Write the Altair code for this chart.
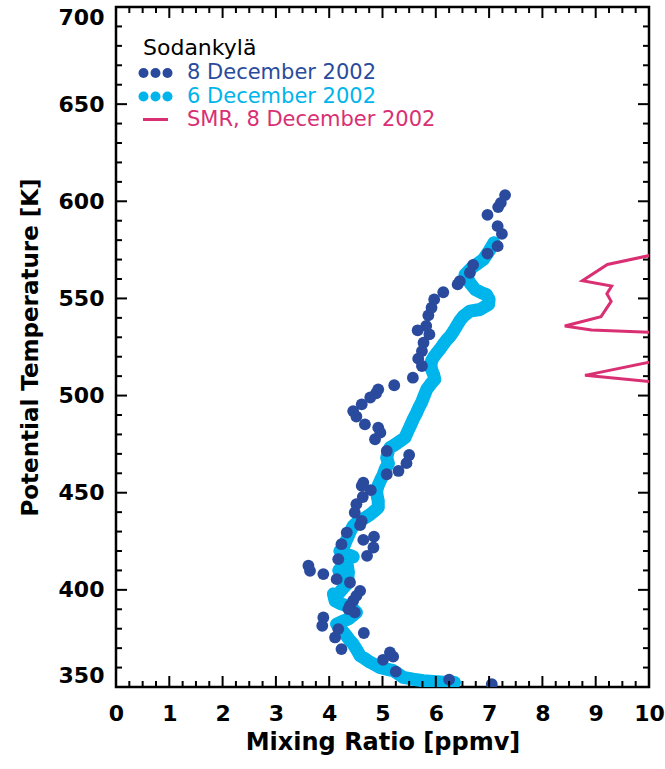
import altair as alt
import pandas as pd

# ---- data -------------------------------------------------------------
# Sodankylä sonde, 8 December 2002: (mixing ratio [ppmv], potential temperature [K])
dec8_x = [7.30, 7.22, 7.17, 6.97, 7.16, 7.24, 7.16, 6.97, 6.70, 6.64, 6.45, 6.41,
          6.14, 5.97, 5.92, 5.86, 5.82, 5.66, 5.88, 5.77, 5.74, 5.67, 5.74, 5.57,
          5.22, 4.92, 4.88, 4.77, 4.61, 4.45, 4.51, 4.67, 4.92, 4.96, 4.86, 5.08,
          5.50, 5.45, 5.30, 5.08, 4.64, 4.61, 4.78, 4.63, 4.51, 4.48, 4.61, 4.58,
          4.33, 4.84, 4.64, 4.23, 4.83, 4.71, 4.17, 3.61, 3.64, 3.89, 4.14, 4.39,
          4.58, 4.51, 4.45, 4.39, 4.36, 4.48, 3.89, 3.87, 4.17, 4.65, 4.11, 4.23,
          5.14, 5.20, 5.01, 5.25, 6.25, 7.05]
dec8_theta = [603.2, 599.2, 597.0, 593.0, 587.2, 583.2, 576.9, 573.1, 567.3, 563.2, 558.9, 557.2,
              553.2, 549.5, 545.2, 541.3, 535.8, 533.6, 531.5, 527.2, 522.9, 519.0, 515.2, 509.2,
              505.3, 503.2, 501.2, 499.0, 495.5, 492.0, 489.2, 485.2, 483.5, 480.9, 477.5, 471.5,
              469.4, 465.2, 461.2, 459.5, 455.2, 453.5, 451.3, 447.8, 444.1, 439.8, 435.5, 433.3,
              429.5, 427.4, 425.7, 423.5, 421.8, 417.5, 415.8, 412.4, 409.8, 408.1, 405.5, 403.8,
              399.5, 396.9, 394.4, 391.8, 390.1, 388.4, 385.8, 381.5, 379.8, 377.8, 375.5, 369.5,
              367.8, 365.6, 364.0, 357.9, 353.8, 351.5]

# Sodankylä sonde, 6 December 2002 (dense profile, top to bottom)
dec6_x = [7.09, 7.00, 6.89, 6.78, 6.67, 6.55, 6.60, 6.64, 6.74, 6.85, 6.95, 7.00,
          6.99, 6.83, 6.64, 6.52, 6.45, 6.39, 6.33, 6.27, 6.20, 6.14, 6.08, 6.02,
          5.96, 5.92, 5.91, 5.92, 5.96, 5.98, 5.90, 5.83, 5.78, 5.73, 5.68, 5.64,
          5.58, 5.52, 5.47, 5.42, 5.33, 5.22, 5.14, 5.10, 5.08, 5.11, 5.05, 5.01,
          4.97, 4.92, 4.89, 4.90, 4.92, 4.92, 4.85, 4.77, 4.68, 4.58, 4.50, 4.45,
          4.40, 4.36, 4.31, 4.27, 4.20, 4.30, 4.45, 4.33, 4.18, 4.34, 4.36, 4.35,
          4.36, 4.25, 4.14, 4.08, 4.11, 4.20, 4.33, 4.45, 4.51, 4.43, 4.36, 4.24,
          4.14, 4.22, 4.30, 4.37, 4.45, 4.52, 4.58, 4.68, 4.77, 4.86, 4.95, 5.08,
          5.20, 5.30, 5.39, 5.57, 5.76, 5.95, 6.15, 6.35]
dec6_theta = [578.6, 574.5, 570.0, 567.8, 565.7, 562.3, 560.0, 558.0, 554.6, 553.0, 552.0, 549.5,
              546.9, 544.3, 543.5, 540.9, 538.5, 535.8, 533.0, 530.6, 528.5, 526.3, 524.0, 522.0,
              519.8, 517.8, 515.5, 513.5, 510.8, 508.4, 505.8, 503.2, 499.8, 496.3, 493.7, 491.2,
              488.0, 484.3, 481.3, 478.3, 476.6, 474.5, 473.2, 470.5, 468.0, 465.0, 462.1, 459.0,
              456.9, 453.8, 450.9, 448.3, 445.8, 442.4, 440.6, 438.9, 437.2, 435.5, 434.2, 432.9,
              430.3, 427.8, 424.8, 421.8, 420.0, 418.8, 417.0, 415.8, 410.0, 412.5, 408.9, 406.5,
              403.8, 400.5, 396.9, 397.9, 394.4, 393.0, 391.8, 390.0, 388.4, 386.6, 385.0, 383.7,
              382.4, 379.8, 377.2, 374.6, 372.1, 369.0, 366.1, 364.4, 362.7, 361.4, 360.1, 359.2,
              358.4, 356.6, 354.9, 354.0, 353.2, 352.8, 352.5, 352.3]

# SMR, 8 December 2002 (partly beyond the 10 ppmv edge)
smr_x = [10.6, 9.22, 8.75, 9.30, 9.21, 9.29, 9.10, 8.42, 8.92, 10.6, 11.0, 10.5, 8.80, 10.5]
smr_theta = [575.5, 567.5, 559.1, 556.4, 552.4, 548.5, 540.6, 535.8, 533.7, 532.0, 525.0, 520.0, 510.4, 506.0]

# axis ticks
x_major = list(range(0, 11))
x_minor = [i * 0.25 for i in range(41) if i % 4 != 0]
y_major = list(range(350, 701, 50))
y_minor = [v for v in range(350, 701, 10) if v % 50 != 0]

# ---- styling ----------------------------------------------------------
DARK = "#2a4b9d"
LIGHT = "#00b4ec"
PINK = "#d92f73"
FONT = "DejaVu Sans"
W, H = 533, 680
MAJOR, MINOR = 11, 6

x_scale = alt.Scale(domain=[0, 10], nice=False, zero=False)
y_scale = alt.Scale(domain=[350, 700], nice=False, zero=False)

x_axis = alt.Axis(values=x_major, format="d", ticks=False, domain=False, grid=False,
                  labelFont=FONT, labelFontSize=22, labelFontWeight="bold", labelColor="black",
                  labelPadding=16, labelFlush=False, labelOverlap=False,
                  title="Mixing Ratio [ppmv]", titleFont=FONT, titleFontSize=24,
                  titleFontWeight="bold", titleColor="black", titlePadding=6)
y_axis = alt.Axis(values=y_major, format="d", ticks=False, domain=False, grid=False,
                  labelFont=FONT, labelFontSize=22, labelFontWeight="bold", labelColor="black",
                  labelPadding=12, labelFlush=True, labelOverlap=False,
                  title="Potential Temperature [K]", titleFont=FONT, titleFontSize=23,
                  titleFontWeight="bold", titleColor="black", titlePadding=16)


def xe(field):
    return alt.X(field, type="quantitative", scale=x_scale, axis=x_axis)


def ye(field):
    return alt.Y(field, type="quantitative", scale=y_scale, axis=y_axis)


dec8 = pd.DataFrame({"x": dec8_x, "theta": dec8_theta})
dec6 = pd.DataFrame({"x": dec6_x, "theta": dec6_theta, "i": range(len(dec6_x))})
smr = pd.DataFrame({"x": smr_x, "theta": smr_theta, "i": range(len(smr_x))})

smr_line = alt.Chart(smr).mark_line(color=PINK, strokeWidth=3, clip=True).encode(
    x=xe("x"), y=ye("theta"), order="i:Q")

dec6_band = alt.Chart(dec6).mark_line(color=LIGHT, strokeWidth=13, strokeCap="round",
                                      strokeJoin="round", clip=True).encode(
    x=xe("x"), y=ye("theta"), order="i:Q")
dec6_pts = alt.Chart(dec6).mark_circle(color=LIGHT, size=145, opacity=1, clip=True).encode(
    x=xe("x"), y=ye("theta"))

dec8_pts = alt.Chart(dec8).mark_circle(color=DARK, size=140, opacity=1, clip=True).encode(
    x=xe("x"), y=ye("theta"))

# inward ticks on all four sides
def vticks(vals, length):
    d = pd.DataFrame({"v": vals})
    bottom = alt.Chart(d).mark_rule(color="black", strokeWidth=2).encode(
        x=xe("v"), y=alt.value(H), y2=alt.value(H - length))
    top = alt.Chart(d).mark_rule(color="black", strokeWidth=2).encode(
        x=xe("v"), y=alt.value(0), y2=alt.value(length))
    return [bottom, top]


def hticks(vals, length):
    d = pd.DataFrame({"v": vals})
    left = alt.Chart(d).mark_rule(color="black", strokeWidth=2).encode(
        y=ye("v"), x=alt.value(0), x2=alt.value(length))
    right = alt.Chart(d).mark_rule(color="black", strokeWidth=2).encode(
        y=ye("v"), x=alt.value(W), x2=alt.value(W - length))
    return [left, right]


ticks = vticks(x_major, MAJOR) + vticks(x_minor, MINOR) + hticks(y_major, MAJOR) + hticks(y_minor, MINOR)

# legend block
one = pd.DataFrame({"k": [0]})
legend = []
legend.append(alt.Chart(one).mark_text(text="Sodankylä", font=FONT, fontSize=22, color="black",
                                       align="left", baseline="middle").encode(
    x=alt.value(27), y=alt.value(41)))
for row_y, col, label in [(66, DARK, "8 December 2002"), (89.5, LIGHT, "6 December 2002")]:
    for dx in (27.5, 39.5, 51.5):
        legend.append(alt.Chart(one).mark_circle(color=col, size=100, opacity=1).encode(
            x=alt.value(dx), y=alt.value(row_y)))
    legend.append(alt.Chart(one).mark_text(text=label, font=FONT, fontSize=21, color=col,
                                           align="left", baseline="middle").encode(
        x=alt.value(71), y=alt.value(row_y)))
legend.append(alt.Chart(one).mark_rule(color=PINK, strokeWidth=3).encode(
    x=alt.value(27), x2=alt.value(52), y=alt.value(112.5)))
legend.append(alt.Chart(one).mark_text(text="SMR, 8 December 2002", font=FONT, fontSize=21,
                                       color=PINK, align="left", baseline="middle").encode(
    x=alt.value(71), y=alt.value(112.5)))

chart = alt.layer(smr_line, dec6_band, dec6_pts, dec8_pts, *ticks, *legend).properties(
    width=W, height=H,
    autosize=alt.AutoSizeParams(type="none"),
    padding={"left": 116, "top": 7, "right": 16, "bottom": 82},
    background="white",
).configure_view(stroke="black", strokeWidth=2.5)

chart.save("out.html", embed_options={"renderer": "svg", "actions": False})
